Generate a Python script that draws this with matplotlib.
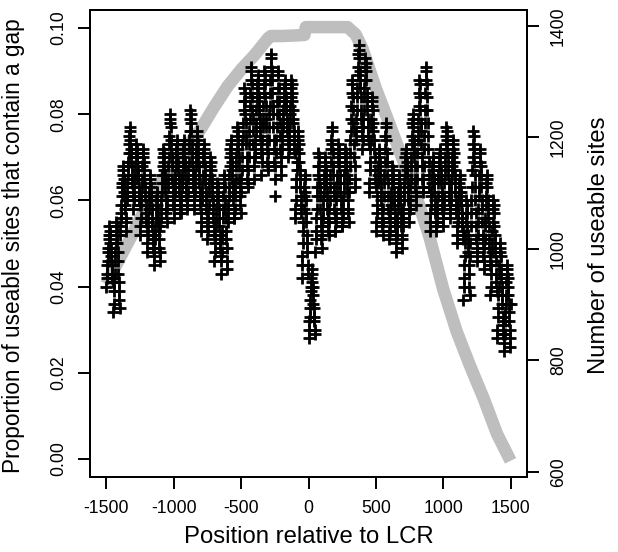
import numpy as np
import matplotlib
matplotlib.use("Agg")
import matplotlib.pyplot as plt

plt.rcParams['font.family'] = ['Liberation Sans', 'DejaVu Sans']

# ---- data -------------------------------------------------------------
# proportion of useable sites that contain a gap (black +), given in per mille,
# positions -1500..1500 in steps of 2.5
prop_positions = np.arange(-1500, 1500.1, 2.5)
prop_permille = [
    40, 42, 43, 45, 46, 48, 49, 51, 52, 54, 53, 52, 50, 49, 47, 46, 45, 43, 42, 41,   # -1500
    34, 36, 39, 41, 43, 46, 48, 50, 53, 55, 54, 52, 50, 48, 46, 43, 41, 39, 37, 35,   # -1450
    52, 54, 56, 57, 59, 61, 63, 64, 66, 68, 67, 65, 64, 62, 61, 59, 58, 56, 55, 53,   # -1400
    60, 62, 64, 66, 68, 69, 71, 73, 75, 77, 76, 74, 72, 71, 69, 68, 66, 64, 63, 61,   # -1350
    58, 60, 61, 63, 65, 66, 68, 70, 71, 73, 72, 70, 69, 67, 66, 65, 63, 62, 60, 59,   # -1300
    52, 54, 56, 59, 61, 63, 65, 68, 70, 72, 71, 69, 67, 65, 63, 61, 59, 57, 55, 53,   # -1250
    48, 50, 52, 54, 56, 58, 60, 62, 64, 66, 65, 63, 61, 60, 58, 56, 54, 52, 51, 49,   # -1200
    45, 47, 49, 51, 52, 54, 56, 58, 60, 62, 61, 59, 58, 56, 54, 53, 51, 49, 48, 46,   # -1150
    54, 56, 58, 60, 62, 64, 66, 68, 70, 72, 71, 69, 67, 66, 64, 62, 60, 58, 57, 55,   # -1100
    58, 60, 63, 65, 68, 70, 73, 75, 78, 80, 79, 77, 74, 72, 70, 68, 65, 63, 61, 59,   # -1050
    56, 58, 60, 62, 64, 66, 68, 70, 72, 74, 73, 71, 69, 67, 66, 64, 62, 60, 59, 57,   # -1000
    57, 59, 61, 63, 65, 66, 68, 70, 72, 74, 73, 71, 69, 68, 66, 64, 63, 61, 59, 58,   # -950
    60, 62, 65, 67, 69, 72, 74, 76, 79, 81, 80, 78, 76, 73, 71, 69, 67, 65, 63, 61,   # -900
    58, 60, 62, 64, 66, 68, 70, 72, 74, 76, 75, 73, 71, 69, 68, 66, 64, 62, 61, 59,   # -850
    53, 55, 57, 60, 62, 64, 66, 69, 71, 73, 72, 70, 68, 66, 64, 62, 60, 58, 56, 54,   # -800
    51, 53, 55, 57, 59, 62, 64, 66, 68, 70, 69, 67, 65, 63, 61, 60, 58, 56, 54, 52,   # -750
    46, 48, 50, 52, 54, 56, 58, 60, 62, 64, 63, 61, 59, 58, 56, 54, 52, 50, 49, 47,   # -700
    43, 46, 48, 51, 53, 56, 58, 61, 63, 66, 65, 63, 60, 58, 56, 53, 51, 49, 46, 44,   # -650
    55, 57, 59, 61, 63, 66, 68, 70, 72, 74, 73, 71, 69, 67, 65, 64, 62, 60, 58, 56,   # -600
    56, 58, 61, 63, 65, 68, 70, 72, 75, 77, 76, 74, 72, 70, 68, 65, 63, 61, 59, 57,   # -550
    62, 65, 67, 70, 73, 75, 78, 81, 83, 86, 85, 83, 80, 78, 75, 73, 70, 68, 65, 63,   # -500
    64, 67, 70, 73, 76, 79, 82, 85, 88, 91, 90, 87, 84, 81, 79, 76, 73, 70, 68, 65,   # -450
    70, 72, 74, 76, 78, 81, 83, 85, 87, 89, 88, 86, 84, 82, 80, 79, 77, 75, 73, 71,   # -400
    66, 69, 71, 74, 77, 79, 82, 85, 87, 90, 89, 87, 84, 82, 79, 77, 74, 72, 69, 67,   # -350
    68, 71, 74, 77, 80, 82, 85, 88, 91, 94, 93, 90, 88, 85, 82, 80, 77, 74, 72, 69,   # -300
    61, 65, 68, 71, 74, 77, 80, 83, 86, 90, 89, 86, 83, 80, 78, 75, 72, 70, 68, 66,   # -250
    72, 74, 76, 77, 79, 81, 83, 84, 86, 88, 87, 85, 84, 82, 81, 79, 78, 76, 75, 73,   # -200
    70, 72, 74, 76, 78, 80, 82, 84, 86, 88, 87, 85, 83, 81, 79, 78, 76, 74, 72, 71,   # -150
    56, 58, 60, 63, 65, 67, 69, 72, 74, 76, 75, 73, 71, 69, 67, 65, 63, 61, 59, 57,   # -100
    42, 45, 47, 50, 53, 55, 58, 61, 63, 66, 65, 62, 60, 57, 55, 52, 50, 48, 45, 43,   # -50
    28, 30, 32, 33, 35, 37, 39, 40, 42, 44, 43, 41, 40, 38, 36, 35, 33, 32, 30, 29,   # 0
    48, 51, 53, 56, 58, 61, 63, 66, 68, 71, 70, 68, 65, 63, 61, 58, 56, 54, 51, 49,   # 50
    52, 54, 56, 58, 60, 62, 64, 66, 68, 70, 69, 67, 65, 64, 62, 60, 58, 56, 55, 53,   # 100
    52, 55, 58, 60, 63, 66, 69, 72, 74, 77, 76, 73, 71, 68, 66, 63, 61, 58, 56, 53,   # 150
    53, 55, 57, 60, 62, 64, 66, 69, 71, 73, 72, 70, 68, 66, 64, 62, 60, 58, 56, 54,   # 200
    54, 56, 58, 60, 62, 64, 66, 68, 70, 72, 71, 69, 67, 66, 64, 62, 60, 58, 57, 55,   # 250
    62, 65, 68, 71, 74, 76, 79, 82, 85, 88, 87, 84, 81, 78, 76, 73, 70, 68, 65, 63,   # 300
    74, 76, 79, 81, 84, 86, 89, 91, 94, 96, 95, 93, 90, 88, 86, 84, 81, 79, 77, 75,   # 350
    72, 74, 77, 79, 81, 84, 86, 88, 91, 93, 92, 90, 88, 85, 83, 81, 79, 77, 75, 73,   # 400
    62, 64, 67, 69, 72, 74, 77, 79, 82, 84, 83, 81, 78, 76, 74, 72, 70, 67, 65, 63,   # 450
    53, 55, 57, 59, 61, 64, 66, 68, 70, 72, 71, 69, 67, 65, 64, 62, 60, 58, 56, 54,   # 500
    52, 55, 58, 61, 64, 66, 69, 72, 75, 78, 77, 74, 71, 69, 66, 64, 61, 58, 56, 53,   # 550
    51, 53, 55, 57, 59, 60, 62, 64, 66, 68, 67, 65, 64, 62, 60, 59, 57, 55, 54, 52,   # 600
    48, 50, 52, 54, 56, 58, 60, 62, 64, 66, 65, 63, 61, 60, 58, 56, 54, 52, 51, 49,   # 650
    54, 56, 58, 60, 62, 64, 66, 68, 70, 72, 71, 69, 67, 66, 64, 62, 60, 58, 57, 55,   # 700
    58, 60, 63, 65, 68, 70, 73, 75, 78, 80, 79, 77, 74, 72, 70, 68, 65, 63, 61, 59,   # 750
    62, 65, 68, 71, 74, 76, 79, 82, 85, 88, 87, 84, 81, 78, 76, 73, 70, 68, 65, 63,   # 800
    62, 65, 68, 72, 75, 78, 81, 85, 88, 91, 90, 87, 84, 81, 78, 75, 72, 69, 66, 63,   # 850
    53, 55, 57, 59, 61, 62, 64, 66, 68, 70, 69, 67, 65, 64, 62, 60, 58, 57, 55, 54,   # 900
    53, 55, 57, 59, 61, 64, 66, 68, 70, 72, 71, 69, 67, 65, 64, 62, 60, 58, 56, 54,   # 950
    57, 59, 61, 64, 66, 68, 70, 73, 75, 77, 76, 74, 72, 70, 68, 66, 64, 62, 60, 58,   # 1000
    56, 58, 60, 62, 64, 66, 68, 70, 72, 74, 73, 71, 69, 67, 66, 64, 62, 60, 59, 57,   # 1050
    50, 52, 54, 55, 57, 59, 61, 62, 64, 66, 65, 63, 62, 60, 59, 57, 56, 54, 53, 51,   # 1100
    37, 40, 42, 45, 47, 50, 52, 55, 57, 60, 59, 57, 54, 52, 50, 48, 45, 43, 40, 38,   # 1150
    47, 50, 54, 57, 60, 63, 67, 70, 73, 76, 75, 72, 69, 66, 63, 60, 57, 54, 51, 48,   # 1200
    46, 49, 52, 55, 58, 61, 63, 66, 69, 72, 71, 68, 66, 63, 60, 58, 55, 52, 50, 47,   # 1250
    44, 46, 49, 51, 54, 56, 59, 61, 64, 66, 65, 63, 60, 58, 56, 54, 51, 49, 47, 45,   # 1300
    38, 40, 43, 45, 48, 50, 53, 55, 58, 60, 59, 57, 54, 52, 50, 48, 46, 43, 41, 39,   # 1350
    28, 30, 33, 35, 38, 40, 43, 45, 48, 50, 49, 47, 44, 42, 40, 38, 36, 33, 31, 29,   # 1400
    25, 27, 29, 32, 34, 36, 38, 41, 43, 45, 44, 42, 40, 38, 36, 34, 32, 30, 28, 26,   # 1450
    36,                                                                               # 1500
]
prop_values = np.array(prop_permille) / 1000.0

# number of useable sites (grey line)
sites_positions = [-1500, -1400, -1300, -1200, -1100, -1000, -900, -800, -700, -600,
                   -500, -400, -300, -280, -200, -100, -30, -20, 0, 100, 200, 290,
                   350, 400, 500, 600, 700, 800, 900, 1000, 1100, 1200, 1300, 1400, 1500]
sites_values = [937, 984, 1030, 1078, 1118, 1152, 1185, 1215, 1255, 1292,
                1322, 1348, 1378, 1382, 1382, 1383, 1384, 1398, 1398, 1398, 1398, 1398,
                1385, 1360, 1288, 1225, 1160, 1095, 1020, 928, 852, 790, 732, 668, 620]

x_ticks = [-1500, -1000, -500, 0, 500, 1000, 1500]
left_ticks = [0.00, 0.02, 0.04, 0.06, 0.08, 0.10]
right_ticks = [600, 800, 1000, 1200, 1400]

xlabel = "Position relative to LCR"
ylabel_left = "Proportion of useable sites that contain a gap"
ylabel_right = "Number of useable sites"

# ---- figure -----------------------------------------------------------
W, H = 618, 552
fig = plt.figure(figsize=(W / 100, H / 100), dpi=100)
L, R, T, B = 90, 527, 10, 477
ax = fig.add_axes([L / W, 1 - B / H, (R - L) / W, (B - T) / H])
ax2 = ax.twinx()
ax.set_zorder(ax2.get_zorder() + 1)
ax.patch.set_visible(False)

ax2.plot(sites_positions, sites_values, color='#BEBEBE', lw=9,
         solid_capstyle='butt', solid_joinstyle='round')
ax.plot(prop_positions, prop_values, linestyle='none', marker='+',
        markersize=9, markeredgewidth=2.0, color='black')

ax.set_xlim(-1622, 1622)
ax.set_ylim(-0.0042, 0.1042)
ax2.set_ylim(591, 1428.7)

ax.set_xticks(x_ticks)
ax.set_xticklabels([str(v) for v in x_ticks])
ax.set_yticks(left_ticks)
ax.set_yticklabels([f"{v:.2f}" for v in left_ticks])
ax2.set_yticks(right_ticks)
ax2.set_yticklabels([str(v) for v in right_ticks])

for a in (ax, ax2):
    for s in a.spines.values():
        s.set_linewidth(1.4)
    a.tick_params(length=8.6, width=1.4, labelsize=12.7, pad=8, color='black')

for lab in ax.get_yticklabels():
    lab.set_rotation(90)
    lab.set_va('center')
for lab in ax2.get_yticklabels():
    lab.set_rotation(90)
    lab.set_va('center')

fig.text(309 / W, 1 - 537 / H, xlabel, ha='center', va='center', fontsize=17.2)
fig.text(14 / W, 1 - 246 / H, ylabel_left, ha='center', va='center',
         rotation=90, fontsize=16.3)
fig.text(599 / W, 1 - 245 / H, ylabel_right, ha='center', va='center',
         rotation=90, fontsize=17.2)

fig.savefig("out.png", dpi=100)
